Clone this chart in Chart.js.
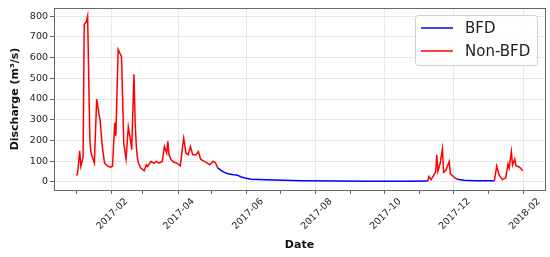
<!DOCTYPE html>
<html>
<head>
<meta charset="utf-8">
<script src="https://cdn.jsdelivr.net/npm/chart.js@4.4.1/dist/chart.umd.min.js"></script>
<style>
  html, body { margin: 0; padding: 0; background: #fff; }
  #wrap { width: 550px; height: 257px; position: relative; }
</style>
</head>
<body>
<div id="wrap"><canvas id="dischargeChart"></canvas></div>
<script>
// Daily discharge, split into baseflow-dominated (BFD) and non-BFD periods
const dates = [
  '2017-01-01','2017-01-02','2017-01-04','2017-01-05','2017-01-07','2017-01-08','2017-01-10','2017-01-11',
  '2017-01-13','2017-01-14','2017-01-17','2017-01-19','2017-01-21','2017-01-22','2017-01-24','2017-01-26',
  '2017-01-29','2017-01-31','2017-02-02','2017-02-04','2017-02-05','2017-02-07','2017-02-10','2017-02-12',
  '2017-02-14','2017-02-16','2017-02-18','2017-02-19','2017-02-21','2017-02-22','2017-02-23','2017-02-24',
  '2017-02-25','2017-02-27','2017-03-02','2017-03-04','2017-03-05','2017-03-08','2017-03-11','2017-03-13',
  '2017-03-15','2017-03-18','2017-03-20','2017-03-22','2017-03-23','2017-03-24','2017-03-26','2017-03-28',
  '2017-03-31','2017-04-03','2017-04-06','2017-04-08','2017-04-10','2017-04-12','2017-04-14','2017-04-17',
  '2017-04-19','2017-04-21','2017-04-24','2017-04-27','2017-04-29','2017-05-02','2017-05-04','2017-05-06',
  '2017-05-09','2017-05-12','2017-05-15','2017-05-20','2017-05-23','2017-05-27','2017-05-30','2017-06-05',
  '2017-06-18','2017-07-19','2017-08-20','2017-09-20','2017-10-20','2017-11-08',
  '2017-11-09','2017-11-11','2017-11-13','2017-11-15','2017-11-16','2017-11-17','2017-11-19','2017-11-21',
  '2017-11-22','2017-11-24','2017-11-27','2017-11-28','2017-12-02','2017-12-04',
  '2017-12-10','2017-12-20','2017-12-30','2018-01-06',
  '2018-01-08','2018-01-10','2018-01-13','2018-01-16','2018-01-18','2018-01-19','2018-01-21','2018-01-22',
  '2018-01-24','2018-01-25','2018-01-27','2018-01-29','2018-01-31'
];
const discharge = [
  30, 35, 150, 75, 120, 760, 775, 800,
  200, 140, 90, 400, 330, 300, 170, 90,
  75, 70, 75, 285, 222, 640, 605, 185,
  110, 265, 200, 155, 520, 300, 180, 120,
  90, 66, 53, 82, 74, 98, 90, 98,
  90, 98, 170, 138, 195, 130, 106, 95,
  90, 77, 210, 138, 130, 170, 130, 130,
  146, 109, 98, 90, 82, 98, 93, 68,
  55, 45, 39, 34, 33, 23, 18, 12,
  10, 5, 3, 2, 2, 3,
  25, 10, 28, 48, 130, 50, 90, 158,
  45, 55, 98, 38, 18, 12,
  7, 5, 5, 5,
  75, 34, 10, 18, 85, 66, 146, 80,
  109, 78, 74, 66, 53
];
// BFD periods (start and end dates are shared with the neighbouring non-BFD line)
const bfdPeriods = [['2017-05-06', '2017-11-08'], ['2017-12-04', '2018-01-06']];

const yTicks = [0, 100, 200, 300, 400, 500, 600, 700, 800];
const majorMonths = ['2017-02','2017-04','2017-06','2017-08','2017-10','2017-12','2018-02'];
const minorMonths = ['2017-01','2017-03','2017-05','2017-07','2017-09','2017-11','2018-01'];

const ORIGIN = Date.UTC(2017, 0, 1);
function dayNum(s) {
  const p = s.split('-').map(Number);
  return Math.round((Date.UTC(p[0], p[1] - 1, p[2] || 1) - ORIGIN) / 86400000);
}

function inBfd(d) {
  return bfdPeriods.some(p => d >= p[0] && d <= p[1]);
}
function inNonBfd(d) {
  return !bfdPeriods.some(p => d > p[0] && d < p[1]);
}

const bfdData = dates.map((d, i) => ({ x: dayNum(d), y: inBfd(d) ? discharge[i] : null }));
const nonBfdData = dates.map((d, i) => ({ x: dayNum(d), y: inNonBfd(d) ? discharge[i] : null }));

const majorDays = majorMonths.map(dayNum);
const minorDays = minorMonths.map(dayNum);
const xTickDays = majorDays.concat(minorDays).sort((a, b) => a - b);

const firstDay = dayNum(dates[0]);
const lastDay = dayNum(dates[dates.length - 1]);
const xPad = (lastDay - firstDay) * 0.05;

const FONT = 'DejaVu Sans';

// Full box around the plot area
const framePlugin = {
  id: 'frame',
  afterDatasetsDraw(chart) {
    const a = chart.chartArea;
    const ctx = chart.ctx;
    ctx.save();
    ctx.strokeStyle = '#666';
    ctx.lineWidth = 1;
    ctx.strokeRect(a.left + 0.5, a.top + 0.5, a.right - a.left, a.bottom - a.top);
    ctx.restore();
  }
};

// Legend inside the upper-right corner
const legendPlugin = {
  id: 'boxLegend',
  afterDraw(chart) {
    const ctx = chart.ctx;
    const a = chart.chartArea;
    const w = 122, h = 50;
    const x = a.right - 8 - w, y = a.top + 7;
    ctx.save();
    ctx.fillStyle = 'rgba(255,255,255,0.85)';
    ctx.strokeStyle = '#d0d0d0';
    ctx.lineWidth = 1;
    ctx.beginPath();
    ctx.roundRect(x + 0.5, y + 0.5, w, h, 3);
    ctx.fill();
    ctx.stroke();
    ctx.font = '15px ' + FONT;
    ctx.textBaseline = 'middle';
    chart.data.datasets.forEach((ds, i) => {
      const ly = y + 13 + i * 23;
      ctx.strokeStyle = ds.borderColor;
      ctx.lineWidth = 1.5;
      ctx.beginPath();
      ctx.moveTo(x + 6, ly);
      ctx.lineTo(x + 38, ly);
      ctx.stroke();
      ctx.fillStyle = '#222';
      ctx.fillText(ds.label, x + 50, ly + 1);
    });
    ctx.restore();
  }
};

new Chart(document.getElementById('dischargeChart'), {
  type: 'line',
  data: {
    datasets: [
      { label: 'BFD', data: bfdData, borderColor: '#0000ff', borderWidth: 1.5, pointRadius: 0, tension: 0, spanGaps: false },
      { label: 'Non-BFD', data: nonBfdData, borderColor: '#ff0000', borderWidth: 1.5, pointRadius: 0, tension: 0, spanGaps: false }
    ]
  },
  options: {
    responsive: true,
    maintainAspectRatio: false,
    animation: false,
    layout: { padding: { top: 8, right: 5, bottom: 5, left: 0 } },
    plugins: { legend: { display: false }, tooltip: { enabled: false } },
    scales: {
      x: {
        type: 'linear',
        min: firstDay - xPad,
        max: lastDay + xPad,
        afterBuildTicks(scale) { scale.ticks = xTickDays.map(v => ({ value: v })); },
        afterFit(scale) { scale.height = 62; },
        ticks: {
          autoSkip: false,
          minRotation: 45,
          maxRotation: 45,
          padding: 2,
          labelOffset: 15,
          color: '#222',
          font: { family: FONT, size: 9.5 },
          callback(v) {
            const i = majorDays.indexOf(v);
            return i >= 0 ? majorMonths[i] : '';
          }
        },
        grid: {
          color: c => (c.tick && majorDays.includes(c.tick.value)) ? 'rgba(0,0,0,0.09)' : 'rgba(0,0,0,0)',
          tickColor: '#666',
          tickLength: 4
        },
        border: { display: false },
        title: { display: true, text: 'Date', color: '#111', font: { family: FONT, size: 11, weight: 'bold' }, padding: { top: 2, bottom: 0 } }
      },
      y: {
        min: -40,
        max: 840,
        afterBuildTicks(scale) { scale.ticks = yTicks.map(v => ({ value: v })); },
        afterFit(scale) { scale.width = 54; },
        ticks: { padding: 2, color: '#222', font: { family: FONT, size: 9.5 } },
        grid: { color: 'rgba(0,0,0,0.09)', tickColor: '#666', tickLength: 4 },
        border: { display: false },
        title: { display: true, text: 'Discharge (m³/s)', color: '#111', font: { family: FONT, size: 11, weight: 'bold' }, padding: { top: 9, bottom: 2 } }
      }
    }
  },
  plugins: [framePlugin, legendPlugin]
});
</script>
</body>
</html>
